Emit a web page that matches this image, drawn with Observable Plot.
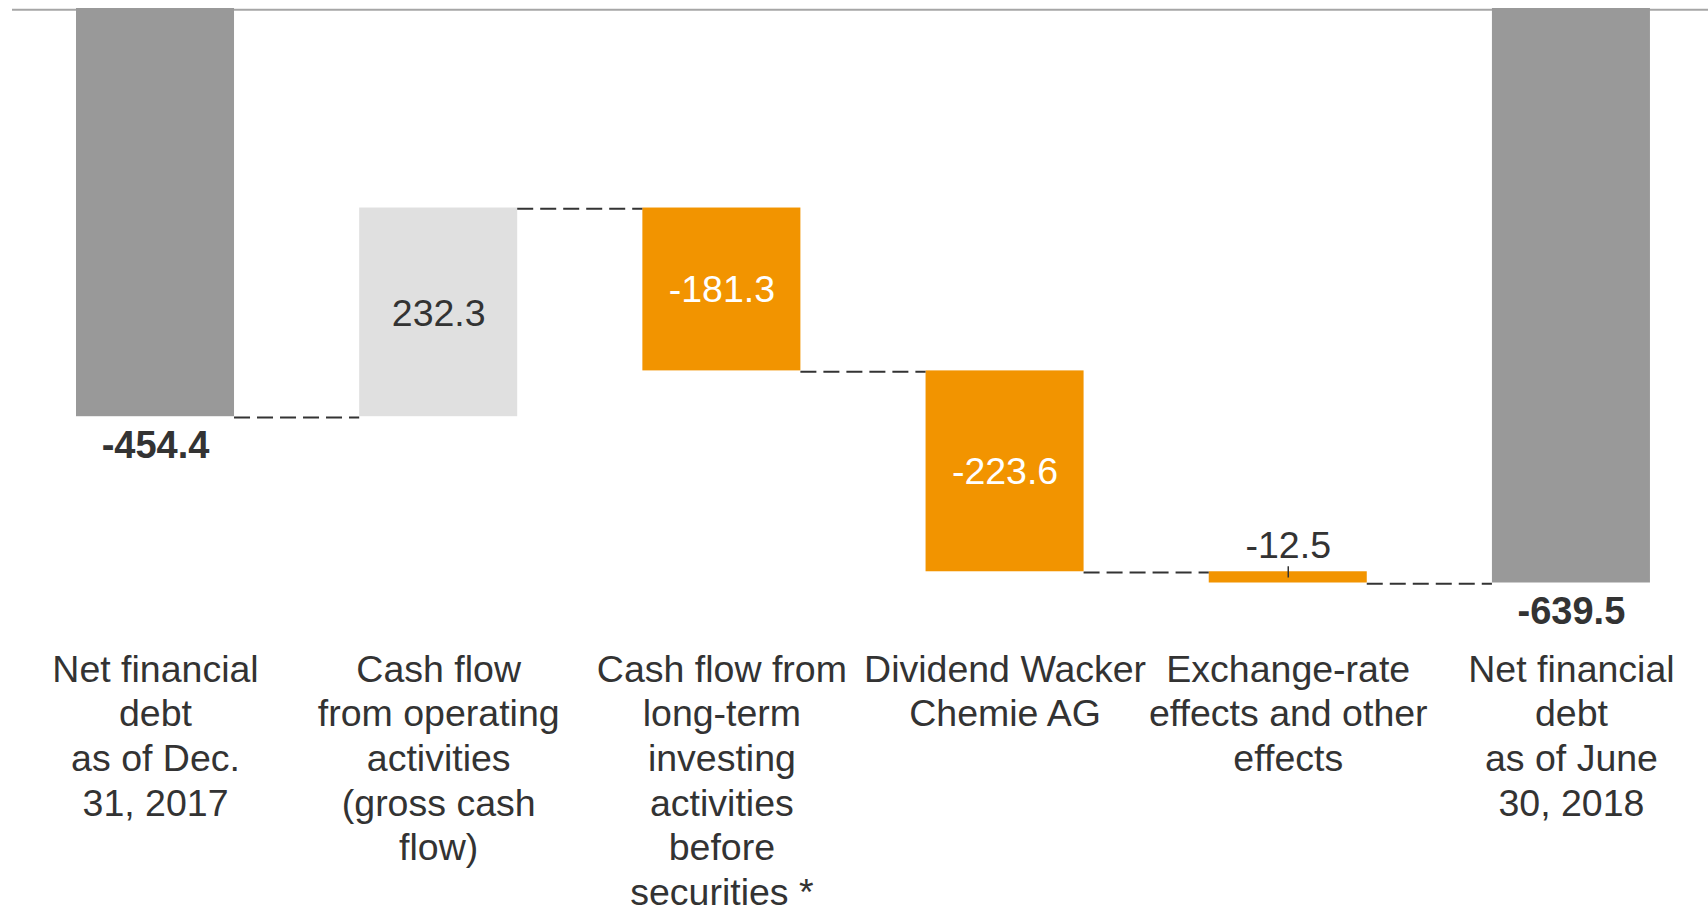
<!DOCTYPE html>
<html>
<head>
<meta charset="utf-8">
<script src="https://cdn.jsdelivr.net/npm/d3@7"></script>
<script src="https://cdn.jsdelivr.net/npm/@observablehq/plot@0.6"></script>
<style>
  html, body { margin: 0; padding: 0; background: #ffffff; overflow: hidden; }
  #chart svg { display: block; }
</style>
</head>
<body>
<div id="chart"></div>
<script>
// ---- data ----
const categories = [
  "Net financial\ndebt\nas of Dec.\n31, 2017",
  "Cash flow\nfrom operating\nactivities\n(gross cash\nflow)",
  "Cash flow from\nlong-term\ninvesting\nactivities\nbefore\nsecurities *",
  "Dividend Wacker\nChemie AG",
  "Exchange-rate\neffects and other\neffects",
  "Net financial\ndebt\nas of June\n30, 2018"
];
const values = [-454.4, 232.3, -181.3, -223.6, -12.5, -639.5];
const isTotal = [true, false, false, false, false, true];

// ---- derived waterfall table ----
let running = 0;
const rows = values.map((v, i) => {
  let y1, y2;
  if (isTotal[i]) { y1 = 0; y2 = v; } else { y1 = running; y2 = running + v; }
  running = y2;
  const kind = isTotal[i] ? "total" : (v >= 0 ? "up" : "down");
  return {i, value: v, y1, y2, top: Math.max(y1, y2), mid: (y1 + y2) / 2, kind, label: v.toFixed(1)};
});
const connectors = rows.slice(0, -1).map(d => ({i: d.i, y: d.y2}));

const half = 0.279;          // half bar width, in category steps
const minInside = 50;        // smaller changes get their label above the bar
const totals = rows.filter(d => d.kind === "total");
const insideUp = rows.filter(d => d.kind === "up" && Math.abs(d.value) >= minInside);
const insideDown = rows.filter(d => d.kind === "down" && Math.abs(d.value) >= minInside);
const outside = rows.filter(d => d.kind !== "total" && Math.abs(d.value) < minInside);

const ink = "#333333";

const plot = Plot.plot({
  width: 1708,
  height: 911,
  marginTop: 8,
  marginBottom: 328.5,
  marginLeft: 12,
  marginRight: 0,
  style: {fontFamily: "'Liberation Sans', Arial, Helvetica, sans-serif", background: "#ffffff", color: ink},
  x: {type: "linear", domain: [-0.505, categories.length - 1 + 0.484]},
  y: {domain: [d3.min(rows, d => Math.min(d.y1, d.y2)), 0], axis: null},
  color: {domain: ["total", "up", "down"], range: ["#999999", "#e0e0e0", "#f29400"]},
  marks: [
    Plot.ruleY([0], {stroke: "#a6a6a6", strokeWidth: 2, dy: 1.2}),
    Plot.rect(rows, {x1: d => d.i - half, x2: d => d.i + half, y1: "y1", y2: "y2", fill: "kind"}),
    Plot.ruleY(connectors, {x1: d => d.i + half, x2: d => d.i + 1 - half, y: "y",
      stroke: ink, strokeWidth: 2, strokeDasharray: "16,7", dy: 0.8}),
    Plot.ruleX(outside, {x: "i", y1: "y1", y2: "y2", dy: -5, stroke: ink, strokeWidth: 1.5}),
    Plot.text(totals, {x: "i", y: "y2", text: "label", lineAnchor: "top", dy: 14,
      fontSize: 38, fontWeight: "bold", fill: ink}),
    Plot.text(insideUp, {x: "i", y: "mid", text: "label", lineAnchor: "middle", dy: 2,
      fontSize: 37.5, fill: ink}),
    Plot.text(insideDown, {x: "i", y: "mid", text: "label", lineAnchor: "middle", dy: 1,
      fontSize: 37.5, fill: "#ffffff"}),
    Plot.text(outside, {x: "i", y: "top", text: "label", lineAnchor: "bottom", dy: -14,
      fontSize: 37.5, fill: ink}),
    Plot.axisX({ticks: rows.map(d => d.i), tickFormat: i => categories[i], tickSize: 0,
      tickPadding: 67, fontSize: 37.5, lineHeight: 1.19, fill: ink, label: null})
  ]
});
document.getElementById("chart").appendChild(plot);
</script>
</body>
</html>
